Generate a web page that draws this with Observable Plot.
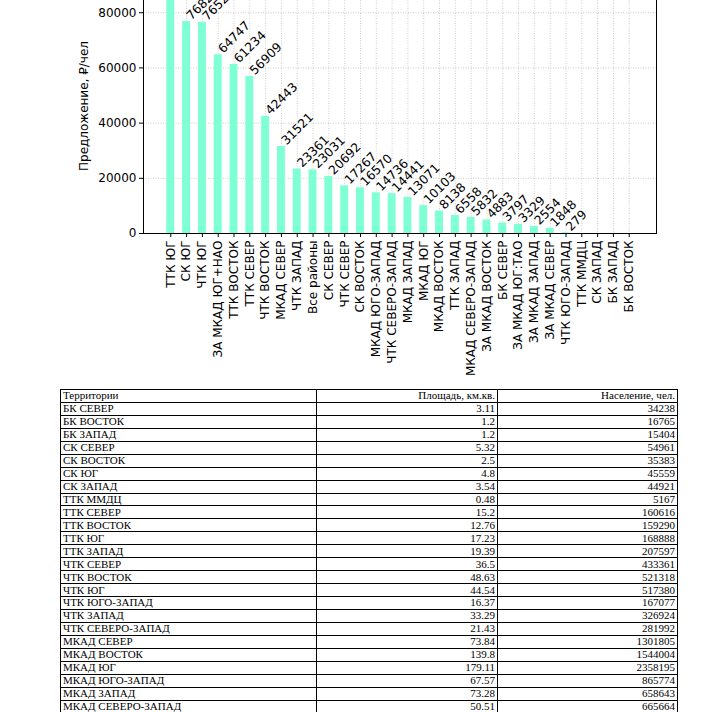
<!DOCTYPE html>
<html>
<head>
<meta charset="utf-8">
<script src="https://cdn.jsdelivr.net/npm/d3@7"></script>
<script src="https://cdn.jsdelivr.net/npm/@observablehq/plot@0.6"></script>
<style>
  html, body { margin: 0; padding: 0; background: #fff; }
  #chart { margin-top: -52px; height: 435px; }
  #chart svg { display: block; overflow: visible; }
  table {
    border-collapse: collapse;
    margin: 6px 0 0 60px;
    width: 617px;
    table-layout: fixed;
    font-family: "Liberation Serif", serif;
    font-size: 11px;
    color: #000;
  }
  td, th {
    border: 1px solid #000;
    padding: 0 2px;
    height: 11.95px;
    line-height: 11px;
    font-weight: normal;
    white-space: nowrap;
    overflow: hidden;
  }
  th:first-child, td:first-child { text-align: left; }
  th, td { text-align: right; }
</style>
</head>
<body>
<div id="chart"></div>
<div id="tbl"></div>
<script>
// ---- chart data ----
const regions = [
  "ТТК ЮГ", "СК ЮГ", "ЧТК ЮГ", "ЗА МКАД ЮГ+НАО", "ТТК ВОСТОК", "ТТК СЕВЕР",
  "ЧТК ВОСТОК", "МКАД СЕВЕР", "ЧТК ЗАПАД", "Все районы", "СК СЕВЕР", "ЧТК СЕВЕР",
  "СК ВОСТОК", "МКАД ЮГО-ЗАПАД", "ЧТК СЕВЕРО-ЗАПАД", "МКАД ЗАПАД", "МКАД ЮГ",
  "МКАД ВОСТОК", "ТТК ЗАПАД", "МКАД СЕВЕРО-ЗАПАД", "ЗА МКАД ВОСТОК", "БК СЕВЕР",
  "ЗА МКАД ЮГ:ТАО", "ЗА МКАД ЗАПАД", "ЗА МКАД СЕВЕР", "ЧТК ЮГО-ЗАПАД", "ТТК ММДЦ",
  "СК ЗАПАД", "БК ЗАПАД", "БК ВОСТОК"
];
const offer = [
  88000, 76824, 76520, 64747, 61234, 56909,
  42443, 31521, 23361, 23031, 20692, 17267,
  16570, 14736, 14441, 13071, 10103,
  8138, 6558, 5832, 4883, 3797,
  3329, 2554, 1848, 279, 0,
  0, 0, 0
];
const yTicks = [0, 20000, 40000, 60000, 80000];
const yLabel = "Предложение, ₽/чел";

// ---- table data ----
const tableHeader = ["Территории", "Площадь, км.кв.", "Население, чел."];
const territories = [
  "БК СЕВЕР", "БК ВОСТОК", "БК ЗАПАД", "СК СЕВЕР", "СК ВОСТОК", "СК ЮГ", "СК ЗАПАД",
  "ТТК ММДЦ", "ТТК СЕВЕР", "ТТК ВОСТОК", "ТТК ЮГ", "ТТК ЗАПАД", "ЧТК СЕВЕР",
  "ЧТК ВОСТОК", "ЧТК ЮГ", "ЧТК ЮГО-ЗАПАД", "ЧТК ЗАПАД", "ЧТК СЕВЕРО-ЗАПАД",
  "МКАД СЕВЕР", "МКАД ВОСТОК", "МКАД ЮГ", "МКАД ЮГО-ЗАПАД", "МКАД ЗАПАД", "МКАД СЕВЕРО-ЗАПАД"
];
const areas = [
  "3.11", "1.2", "1.2", "5.32", "2.5", "4.8", "3.54", "0.48", "15.2", "12.76", "17.23", "19.39",
  "36.5", "48.63", "44.54", "16.37", "33.29", "21.43", "73.84", "139.8", "179.11", "67.57", "73.28", "50.51"
];
const population = [
  34238, 16765, 15404, 54961, 35383, 45559, 44921, 5167, 160616, 159290, 168888, 207597,
  433361, 521318, 517380, 167077, 326924, 281992, 1301805, 1544004, 2358195, 865774, 658643, 665664
];

const data = regions.map((r, i) => ({region: r, value: offer[i]}));

const chart = Plot.plot({
  width: 712,
  height: 435,
  marginLeft: 143,
  marginRight: 56,
  marginTop: 30,
  marginBottom: 150,
  style: {fontFamily: "DejaVu Sans", fontSize: "12px", color: "#000", background: "#fff", overflow: "visible"},
  x: {type: "band", domain: regions, paddingInner: 0.5, paddingOuter: 1.475, align: 0.5, round: false, label: null},
  y: {domain: [0, 92400], label: null},
  marks: [
    Plot.gridX({stroke: "#b0b0b0", strokeOpacity: 0.8, strokeDasharray: "1,1.5", strokeWidth: 0.8}),
    Plot.gridY(yTicks.slice(1), {stroke: "#b0b0b0", strokeOpacity: 0.8, strokeDasharray: "1,1.5", strokeWidth: 0.8}),
    Plot.barY(data, {x: "region", y: "value", fill: "aquamarine"}),
    Plot.text(data.filter(d => d.value > 0), {
      x: "region", y: "value", text: d => String(d.value),
      rotate: -45, textAnchor: "start", lineAnchor: "bottom", dx: 5, dy: -1,
      fill: "#000", fontSize: 12.3
    }),
    Plot.axisX({tickRotate: -90, tickSize: 4, tickPadding: 3, label: null}),
    Plot.axisY(yTicks, {tickSize: 4, tickPadding: 3, tickFormat: d => String(d), label: yLabel,
      labelAnchor: "center", labelArrow: "none", labelOffset: 64}),
    Plot.frame({stroke: "#000", strokeWidth: 1})
  ]
});
document.getElementById("chart").appendChild(chart);

// ---- table ----
const table = document.createElement("table");
const colgroup = document.createElement("colgroup");
[256, 181, 180].forEach(w => { const c = document.createElement("col"); c.style.width = w + "px"; colgroup.appendChild(c); });
table.appendChild(colgroup);
const hr = document.createElement("tr");
tableHeader.forEach(h => { const th = document.createElement("th"); th.textContent = h; hr.appendChild(th); });
table.appendChild(hr);
territories.forEach((t, i) => {
  const tr = document.createElement("tr");
  [t, areas[i], String(population[i])].forEach(v => { const td = document.createElement("td"); td.textContent = v; tr.appendChild(td); });
  table.appendChild(tr);
});
document.getElementById("tbl").appendChild(table);
</script>
</body>
</html>
